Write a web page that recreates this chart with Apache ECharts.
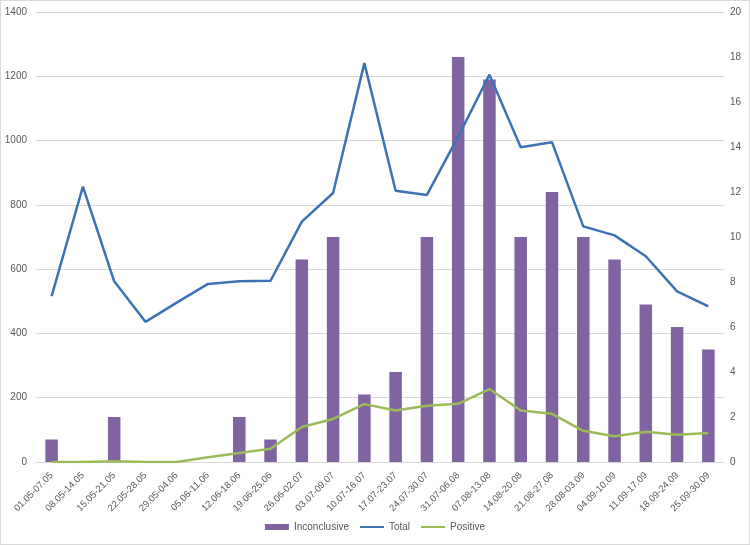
<!DOCTYPE html>
<html lang="en">
<head>
    <meta charset="UTF-8">
    <title>Tests</title>
    <script src="https://cdn.jsdelivr.net/npm/echarts@6/dist/echarts.min.js"></script>
    <style>
        html, body { margin: 0; padding: 0; background: #fff; }
        #main {
            width: 748px;
            height: 543px;
            border: 1px solid #d9d9d9;
        }
    </style>
</head>
<body>
<div id="main"></div>
<script>
    // weeks
    var weeks = ['01.05-07.05', '08.05-14.05', '15.05-21.05', '22.05-28.05', '29.05-04.06',
        '05.06-11.06', '12.06-18.06', '19.06-25.06', '26.06-02.07', '03.07-09.07',
        '10.07-16.07', '17.07-23.07', '24.07-30.07', '31.07-06.08', '07.08-13.08',
        '14.08-20.08', '21.08-27.08', '28.08-03.09', '04.09-10.09', '11.09-17.09',
        '18.09-24.09', '25.09-30.09'];

    // right axis
    var inconclusive = [1, 0, 2, 0, 0, 0, 2, 1, 9, 10, 3, 4, 10, 18, 17, 10, 12, 10, 9, 7, 6, 5];

    // left axis
    var total = [516, 857, 562, 436, 496, 554, 562, 564, 748, 837, 1241, 844, 831, 1012,
        1205, 979, 995, 733, 705, 640, 531, 484];
    var positive = [0, 0, 2, 0, 0, 15, 28, 41, 109, 134, 180, 160, 175, 181,
        227, 160, 150, 97, 80, 94, 85, 90];

    var leftTicks = { min: 0, max: 1400, interval: 200 };
    var rightTicks = { min: 0, max: 20, interval: 2 };

    var txt = '#595959';
    var font = 'Liberation Sans';

    var myChart = echarts.init(document.getElementById('main'));

    var option = {
        animation: false,
        textStyle: { fontFamily: font },
        grid: { left: 35, right: 25, top: 11, bottom: 82 },
        legend: {
            bottom: 7,
            left: 'center',
            itemGap: 10,
            itemWidth: 24,
            itemHeight: 6,
            textStyle: { color: txt, fontSize: 10, fontFamily: font },
            data: [
                { name: 'Inconclusive', icon: 'rect' },
                { name: 'Total', itemStyle: { opacity: 0 } },
                { name: 'Positive', itemStyle: { opacity: 0 } }
            ]
        },
        xAxis: {
            type: 'category',
            data: weeks,
            axisLine: { lineStyle: { color: '#d9d9d9' } },
            axisTick: { show: false },
            axisLabel: {
                interval: 0,
                rotate: 45,
                color: txt,
                fontSize: 9.5,
                margin: 12
            }
        },
        yAxis: [
            {
                type: 'value',
                min: leftTicks.min,
                max: leftTicks.max,
                interval: leftTicks.interval,
                axisLine: { show: false },
                axisTick: { show: false },
                axisLabel: {
                    color: txt,
                    fontSize: 10,
                    margin: 9,
                    formatter: function (v) { return String(v); }
                },
                splitLine: { lineStyle: { color: '#d9d9d9' } }
            },
            {
                type: 'value',
                min: rightTicks.min,
                max: rightTicks.max,
                interval: rightTicks.interval,
                axisLine: { show: false },
                axisTick: { show: false },
                axisLabel: { color: txt, fontSize: 10, margin: 6 },
                splitLine: { show: false }
            }
        ],
        series: [
            {
                name: 'Inconclusive',
                type: 'bar',
                yAxisIndex: 1,
                data: inconclusive,
                barWidth: '40%',
                itemStyle: { color: '#8064a2' }
            },
            {
                name: 'Total',
                type: 'line',
                yAxisIndex: 0,
                data: total,
                symbol: 'none',
                lineStyle: { color: '#3d72b4', width: 2.5 },
                itemStyle: { color: '#3d72b4' }
            },
            {
                name: 'Positive',
                type: 'line',
                yAxisIndex: 0,
                data: positive,
                symbol: 'none',
                lineStyle: { color: '#9bbb59', width: 2.5 },
                itemStyle: { color: '#9bbb59' }
            }
        ]
    };

    myChart.setOption(option);
</script>
</body>
</html>
